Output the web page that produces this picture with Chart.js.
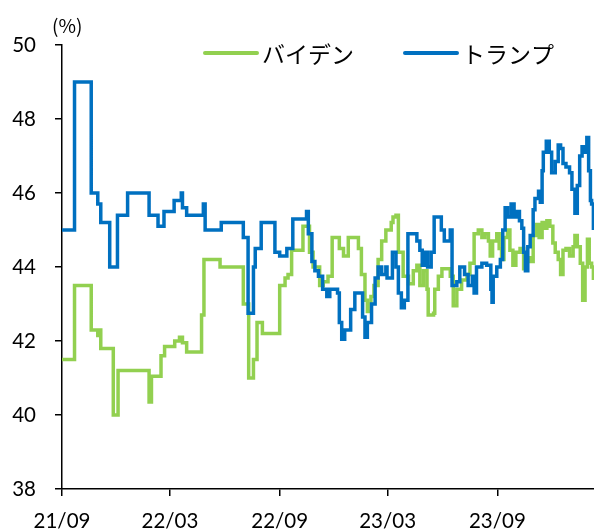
<!DOCTYPE html>
<html>
<head>
<meta charset="utf-8">
<script src="https://cdn.jsdelivr.net/npm/chart.js@4.4.1/dist/chart.umd.min.js"></script>
<style>
  html, body { margin: 0; padding: 0; background: #fff; }
  #wrap { width: 594px; height: 532px; position: relative; }
</style>
</head>
<body>
<div id="wrap"><canvas id="c"></canvas></div>
<script>
// Poll averages (%), one entry per change in the running average
const seriesNames = ['バイデン', 'トランプ'];

const bidenDates = [
  '2021-09-01','2021-09-22','2021-10-20','2021-10-31','2021-11-02','2021-11-05','2021-11-26','2021-12-04',
  '2022-01-25','2022-01-29','2022-02-14','2022-02-20','2022-03-09','2022-03-17','2022-03-22','2022-03-29',
  '2022-04-23','2022-04-27','2022-05-24','2022-07-02','2022-07-11','2022-07-19','2022-07-25','2022-08-03',
  '2022-09-01','2022-09-10','2022-09-15','2022-09-21','2022-10-10','2022-10-21','2022-10-27','2022-11-07',
  '2022-11-13','2022-11-21','2022-11-28','2022-12-10','2022-12-17','2022-12-25','2023-01-11','2023-01-16',
  '2023-01-22','2023-01-26','2023-02-01','2023-02-06','2023-02-13','2023-02-19','2023-02-26','2023-03-07',
  '2023-03-10','2023-03-15','2023-03-19','2023-03-27','2023-04-05','2023-04-13','2023-04-19','2023-04-24',
  '2023-04-30','2023-05-06','2023-05-08','2023-05-17','2023-05-19','2023-05-25','2023-05-31','2023-06-14',
  '2023-06-19','2023-06-25','2023-07-03','2023-07-12','2023-07-17','2023-07-24','2023-07-31','2023-08-06',
  '2023-08-11','2023-08-17','2023-08-20','2023-08-24','2023-08-31','2023-09-04','2023-09-08','2023-09-12',
  '2023-09-18','2023-09-22','2023-09-27','2023-10-02','2023-10-09','2023-10-15','2023-10-19','2023-10-26',
  '2023-10-31','2023-11-06','2023-11-10','2023-11-15','2023-11-18','2023-11-23','2023-11-28','2023-12-03',
  '2023-12-07','2023-12-12','2023-12-16','2023-12-20','2023-12-25','2023-12-31','2024-01-06','2024-01-09',
  '2024-01-13','2024-01-18','2024-01-22','2024-01-26','2024-01-30','2024-02-02','2024-02-06','2024-02-09'
];
const bidenValues = [
  41.5, 43.5, 42.3, 42.15, 42.3, 41.8, 40.0, 41.2,
  40.35, 41.05, 41.6, 41.85, 42.0, 42.1, 41.95, 41.7,
  42.7, 44.2, 44.0, 43.0, 41.0, 41.5, 42.5, 42.2,
  43.5, 43.7, 43.8, 44.45, 45.1, 44.4, 44.0, 43.5,
  43.6, 43.75, 44.8, 44.5, 44.3, 44.8, 44.5, 43.8,
  43.1, 42.8, 43.2, 43.5, 44.2, 44.7, 45.0, 45.2,
  45.35, 45.4, 44.4, 43.75, 43.55, 43.9, 44.05, 43.5,
  43.9, 43.4, 42.7, 42.75, 43.4, 43.75, 43.95, 43.75,
  42.95, 43.4, 43.65, 43.8, 44.1, 44.9, 45.0, 44.8,
  44.9, 44.7, 44.3, 44.7, 44.9, 44.5, 44.2, 44.8,
  45.0, 44.45, 44.05, 44.4, 44.5, 43.95, 44.25, 44.15,
  44.85, 45.15, 44.8, 45.2, 45.05, 45.25, 45.1, 44.65,
  44.4, 44.2, 43.8, 44.45, 44.5, 44.3, 44.55, 44.85,
  44.55, 44.1, 43.1, 44.0, 44.75, 44.1, 44.0, 43.65
];

const trumpDates = [
  '2021-09-01','2021-09-22','2021-10-20','2021-10-31','2021-11-05','2021-11-20','2021-12-03','2021-12-20',
  '2022-01-25','2022-02-09','2022-02-19','2022-03-08','2022-03-20','2022-03-22','2022-03-29','2022-04-26',
  '2022-04-29','2022-05-26','2022-07-02','2022-07-10','2022-07-19','2022-07-22','2022-08-01','2022-08-24',
  '2022-09-01','2022-09-13','2022-09-23','2022-10-16','2022-10-19','2022-10-25','2022-10-30','2022-11-05',
  '2022-11-12','2022-11-19','2022-11-24','2022-12-07','2022-12-10','2022-12-14','2022-12-19','2022-12-29',
  '2023-01-05','2023-01-18','2023-01-22','2023-01-26','2023-02-02','2023-02-08','2023-02-13','2023-02-19',
  '2023-02-26','2023-02-28','2023-03-09','2023-03-15','2023-03-19','2023-03-24','2023-03-29','2023-04-04',
  '2023-04-19','2023-04-24','2023-04-28','2023-05-03','2023-05-07','2023-05-13','2023-05-18','2023-05-30',
  '2023-06-04','2023-06-14','2023-06-17','2023-06-25','2023-06-30','2023-07-08','2023-07-14','2023-07-21',
  '2023-07-24','2023-07-28','2023-08-06','2023-08-14','2023-08-21','2023-08-23','2023-08-25','2023-08-31',
  '2023-09-06','2023-09-10','2023-09-14','2023-09-18','2023-09-24','2023-09-29','2023-10-04','2023-10-08',
  '2023-10-12','2023-10-15','2023-10-18','2023-10-22','2023-10-26','2023-10-31','2023-11-03','2023-11-09',
  '2023-11-12','2023-11-15','2023-11-17','2023-11-22','2023-11-27','2023-12-01','2023-12-07','2023-12-12',
  '2023-12-16','2023-12-20','2023-12-25','2023-12-31','2024-01-04','2024-01-09','2024-01-13','2024-01-17',
  '2024-01-21','2024-01-25','2024-01-29','2024-02-01','2024-02-04','2024-02-06','2024-02-09'
];
const trumpValues = [
  45.0, 49.0, 46.0, 45.7, 45.2, 44.0, 45.4, 46.0,
  45.4, 45.1, 45.5, 45.8, 46.0, 45.6, 45.4, 45.7,
  45.0, 45.2, 44.8, 42.75, 44.0, 44.5, 45.2, 44.4,
  44.3, 44.5, 45.3, 45.5, 44.9, 44.15, 43.9, 43.75,
  43.4, 43.2, 43.4, 43.3, 42.5, 42.05, 42.3, 42.85,
  43.3, 42.65, 42.1, 42.5, 43.0, 43.7, 44.0, 43.8,
  44.0, 43.7, 44.4, 44.0, 43.3, 42.9, 43.1, 44.9,
  44.7, 44.45, 44.05, 44.4, 44.0, 44.4, 45.35, 45.0,
  44.7, 45.0, 43.5, 43.6, 44.0, 43.8, 43.5, 43.75,
  43.3, 44.0, 44.1, 44.05, 43.4, 43.05, 43.75, 44.0,
  44.2, 45.0, 45.6, 45.35, 45.7, 45.35, 45.5, 45.25,
  45.05, 44.4, 43.9, 44.55, 44.85, 45.55, 45.85, 46.05,
  45.75, 46.6, 47.1, 47.4, 47.1, 46.55, 46.85, 47.3,
  47.2, 46.8, 46.7, 46.55, 46.1, 45.45, 46.2, 47.0,
  47.25, 47.1, 47.5, 46.6, 45.8, 45.7, 45.0
];

// Horizontal axis: month ticks and the end of the period shown
const tickDates  = ['2021-09-01', '2022-03-01', '2022-09-01', '2023-03-01', '2023-09-01'];
const tickLabels = ['21/09', '22/03', '22/09', '23/03', '23/09'];
const axisStart = '2021-09-01';
const axisEnd   = '2024-02-10';

const yMin = 38, yMax = 50, yStep = 2;
const unitLabel = '(%)';

const colors = { biden: '#92D050', trump: '#0070C0' };

// dates become day offsets on a linear axis
const DAY_MS = 86400000;
function dayOf(s) {
  const [y, m, d] = s.split('-').map(Number);
  const [y0, m0, d0] = axisStart.split('-').map(Number);
  return (Date.UTC(y, m - 1, d) - Date.UTC(y0, m0 - 1, d0)) / DAY_MS;
}
function toPoints(dates, values) {
  return dates.map((d, i) => ({ x: dayOf(d), y: values[i] }));
}

// legend and unit caption drawn on the canvas
const legendPlugin = {
  id: 'topLegend',
  afterDraw(chart) {
    const ctx = chart.ctx;
    ctx.save();
    ctx.font = '19px "Noto Sans CJK JP"';
    ctx.fillStyle = '#000';
    ctx.textAlign = 'left';
    ctx.textBaseline = 'middle';
    ctx.fillText(unitLabel, 52, 26);

    const items = [
      { name: seriesNames[0], color: colors.biden, x: 205 },
      { name: seriesNames[1], color: colors.trump, x: 405 }
    ];
    const ly = 53;
    ctx.font = '23px "Noto Sans CJK JP"';
    items.forEach(it => {
      ctx.strokeStyle = it.color;
      ctx.lineWidth = 4;
      ctx.lineCap = 'round';
      ctx.beginPath();
      ctx.moveTo(it.x, ly);
      ctx.lineTo(it.x + 52, ly);
      ctx.stroke();
      ctx.fillStyle = '#000';
      ctx.fillText(it.name, it.x + 57, ly + 1);
    });
    ctx.restore();
  }
};

const tickFont = { family: 'Lato, "Liberation Sans", sans-serif', size: 20.5 };

new Chart(document.getElementById('c'), {
  type: 'line',
  data: {
    datasets: [
      {
        label: seriesNames[1],
        data: toPoints(trumpDates, trumpValues),
        borderColor: colors.trump,
        borderWidth: 3.5,
        stepped: true,
        pointRadius: 0,
        fill: false
      },
      {
        label: seriesNames[0],
        data: toPoints(bidenDates, bidenValues),
        borderColor: colors.biden,
        borderWidth: 3.5,
        stepped: true,
        pointRadius: 0,
        fill: false
      }
    ]
  },
  options: {
    responsive: true,
    maintainAspectRatio: false,
    animation: false,
    devicePixelRatio: 1,
    layout: { padding: { top: 45, right: 0, bottom: 0, left: 0 } },
    plugins: { legend: { display: false }, tooltip: { enabled: false } },
    scales: {
      x: {
        type: 'linear',
        min: 0,
        max: dayOf(axisEnd),
        afterBuildTicks(scale) {
          scale.ticks = tickDates.map(d => ({ value: dayOf(d) }));
        },
        afterFit(scale) { scale.height = 43; },
        ticks: {
          autoSkip: false,
          maxRotation: 0,
          color: '#000',
          font: tickFont,
          padding: 13,
          callback: (v, i) => tickLabels[i]
        },
        grid: {
          display: true,
          drawOnChartArea: false,
          drawTicks: true,
          tickLength: 7,
          color: '#000',
          lineWidth: 1.5
        },
        border: { display: true, color: '#000', width: 1.5 }
      },
      y: {
        min: yMin,
        max: yMax,
        afterFit(scale) { scale.width = 62; },
        ticks: {
          stepSize: yStep,
          color: '#000',
          font: tickFont,
          padding: 19
        },
        grid: {
          display: true,
          drawOnChartArea: false,
          drawTicks: true,
          tickLength: 7,
          color: '#000',
          lineWidth: 1.5
        },
        border: { display: true, color: '#000', width: 1.5 }
      }
    }
  },
  plugins: [legendPlugin]
});
</script>
</body>
</html>
